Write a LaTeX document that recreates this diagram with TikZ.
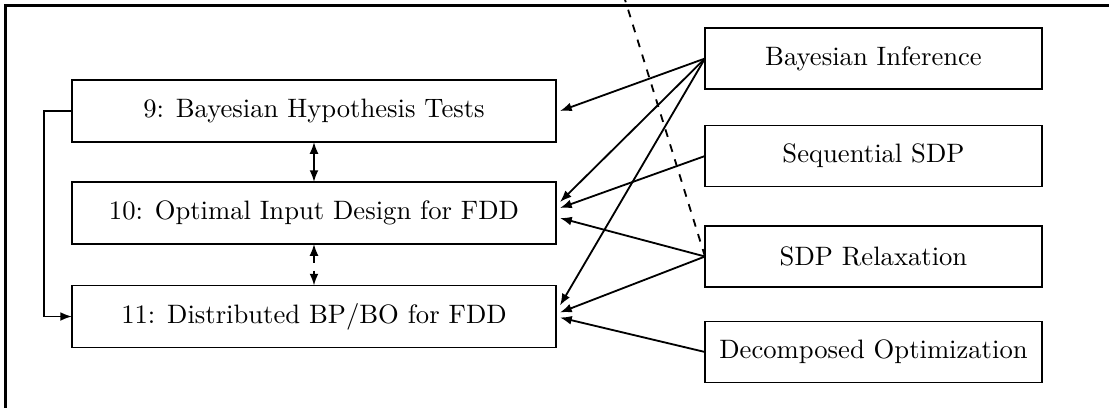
\documentclass[tikz,border=0pt]{standalone}
\usetikzlibrary{arrows.meta,calc}
\newdimen\pxu \pxu=0.383pt
\begin{document}
\begin{tikzpicture}[x=0.383pt,y=-0.383pt,
 font=\fontsize{10.2}{12}\selectfont,
 box/.style={draw,line width=0.7pt,minimum width=484\pxu,minimum height=62\pxu,inner sep=0pt,outer sep=0pt},
 rbox/.style={draw,line width=0.7pt,minimum width=337\pxu,minimum height=61\pxu,inner sep=0pt,outer sep=0pt},
 arr/.style={line width=0.7pt,-{Latex[length=4.5pt,width=3.4pt]}},
 darr/.style={line width=0.7pt,{Latex[length=4.5pt,width=3.4pt]}-{Latex[length=4.5pt,width=3.4pt]}}]
\useasboundingbox (0,0) rectangle (1109,408);
\clip (0,0) rectangle (1109,408);
\draw[line width=1pt] (5.5,430) -- (5.5,5.5) -- (1130,5.5);
\node[box] (b9) at (314,111) {9: Bayesian Hypothesis Tests};
\node[box] (b10) at (314,213) {10: Optimal Input Design for FDD};
\node[box] (b11) at (314,316.5) {11: Distributed BP/BO for FDD};
\node[rbox] (bi) at (873.5,58.5) {Bayesian Inference};
\node[rbox] (seq) at (873.5,156) {Sequential SDP};
\node[rbox] (sdpr) at (873.5,256.5) {SDP Relaxation};
\node[rbox] (dec) at (873.5,352) {Decomposed Optimization};
\coordinate (top) at (622,-10);
\draw[dashed,line width=0.7pt] (sdpr.west) -- (top);
\draw[arr] (bi.west) -- ($(b9.east)+(4,0)$);
\draw[arr] (bi.west) -- ($(b10.east)+(4,-11)$);
\draw[arr] (bi.west) -- ($(b11.east)+(4,-11)$);
\draw[arr] (seq.west) -- ($(b10.east)+(4,-5)$);
\draw[arr] (sdpr.west) -- ($(b10.east)+(4,5)$);
\draw[arr] (sdpr.west) -- ($(b11.east)+(4,-4)$);
\draw[arr] (dec.west) -- ($(b11.east)+(4,1)$);
\draw[darr] (b9.south) -- (b10.north);
\draw[darr,dashed] (b10.south) -- (b11.north);
\draw[arr] (b9.west) -- ++(-28,0) |- (b11.west);
\end{tikzpicture}
\end{document}
